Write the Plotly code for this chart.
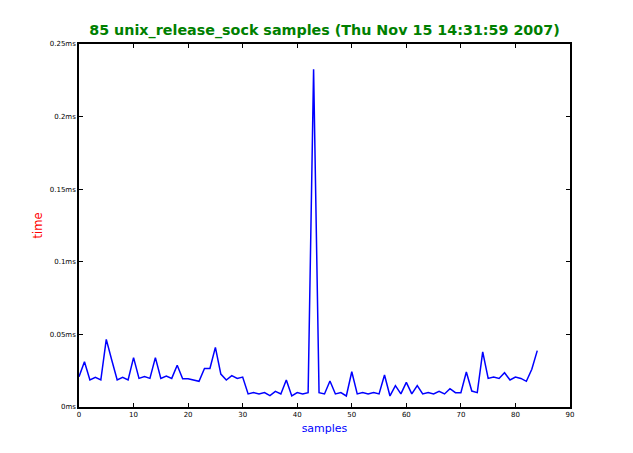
import plotly.graph_objects as go

samples = list(range(85))
times_ms = [
    0.0209, 0.0312, 0.0186, 0.0204, 0.0186, 0.0466, 0.0324, 0.0186, 0.0204, 0.0186,
    0.0340, 0.0197, 0.0209, 0.0197, 0.0340, 0.0197, 0.0213, 0.0197, 0.0287, 0.0195,
    0.0195, 0.0186, 0.0177, 0.0266, 0.0266, 0.0411, 0.0227, 0.0186, 0.0216, 0.0197,
    0.0206, 0.0090, 0.0099, 0.0090, 0.0099, 0.0078, 0.0108, 0.0090, 0.0186, 0.0076,
    0.0099, 0.0090, 0.0099, 0.2326, 0.0099, 0.0090, 0.0179, 0.0090, 0.0099, 0.0076,
    0.0243, 0.0090, 0.0099, 0.0090, 0.0099, 0.0090, 0.0220, 0.0076, 0.0147, 0.0090,
    0.0170, 0.0090, 0.0147, 0.0090, 0.0099, 0.0090, 0.0108, 0.0090, 0.0126, 0.0099,
    0.0099, 0.0241, 0.0110, 0.0099, 0.0379, 0.0197, 0.0206, 0.0197, 0.0236, 0.0186,
    0.0206, 0.0197, 0.0177, 0.0260, 0.0388,
]
x_ticks = [0, 10, 20, 30, 40, 50, 60, 70, 80, 90]
y_ticks = [0, 0.05, 0.1, 0.15, 0.2, 0.25]
y_tick_labels = ["0ms", "0.05ms", "0.1ms", "0.15ms", "0.2ms", "0.25ms"]
title_text = "85 unix_release_sock samples (Thu Nov 15 14:31:59 2007)"

fig = go.Figure()
fig.add_trace(go.Scatter(x=samples, y=times_ms, mode="lines",
                         line=dict(color="#0000ff", width=1.5), showlegend=False,
                         hoverinfo="skip"))

fig.update_layout(
    width=633, height=453,
    margin=dict(l=79, r=63, t=44, b=46),
    paper_bgcolor="white", plot_bgcolor="white",
    font=dict(family="DejaVu Sans", color="black"),
    title=dict(text=title_text, xref="paper", x=0.5, xanchor="center",
               yref="container", y=1 - 30 / 453, yanchor="middle",
               font=dict(size=14.3, color="#008000", family="DejaVu Sans", weight="bold")),
)
axis_common = dict(
    showgrid=False, zeroline=False, showline=True, linecolor="black", linewidth=1.5,
    mirror="ticks", ticks="inside", ticklen=4, tickcolor="black", tickwidth=1,
    tickfont=dict(size=7, color="black", family="DejaVu Sans"),
)
fig.update_xaxes(range=[0, 90], tickvals=x_ticks, ticktext=[str(v) for v in x_ticks],
                 title=dict(text="samples", font=dict(size=11, color="#0000ff"), standoff=6),
                 **axis_common)
fig.update_yaxes(range=[0, 0.25], tickvals=y_ticks, ticktext=y_tick_labels,
                 title=dict(text="time", font=dict(size=11.5, color="#ff0000"), standoff=5),
                 **axis_common)

fig.write_html("out.html", config={"displayModeBar": False},
               post_script="document.body.style.margin='0';")
